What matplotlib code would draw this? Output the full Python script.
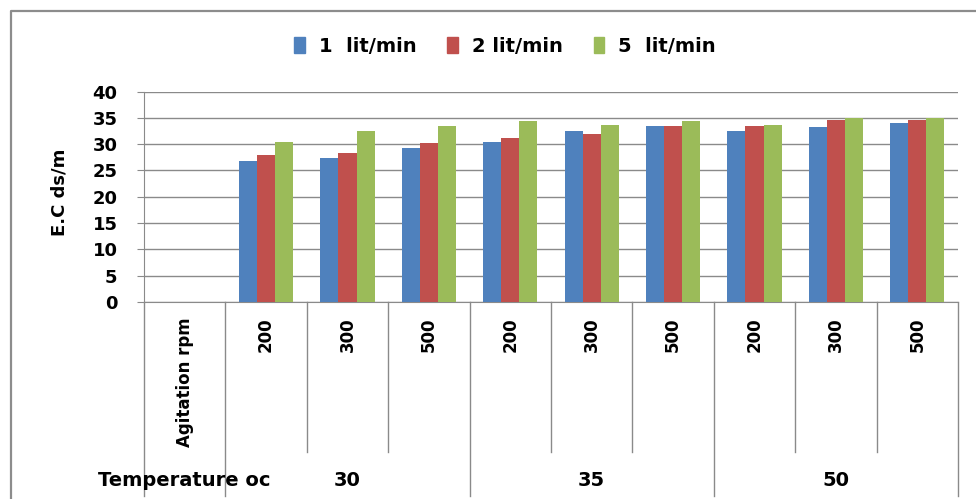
import matplotlib
matplotlib.use("Agg")
import matplotlib.pyplot as plt
import numpy as np
from matplotlib.lines import Line2D
from matplotlib.patches import Patch

# electrical conductivity by agitation speed / temperature, one series per air flow
RPM = ["Agitation rpm", "200", "300", "500", "200", "300", "500", "200", "300", "500"]
TEMPS = ["Temperature oc", "30", "35", "50"]
SERIES = ["1  lit/min", "2 lit/min", "5  lit/min"]
EC_1 = [np.nan, 26.7, 27.3, 29.2, 30.4, 32.4, 33.4, 32.4, 33.2, 34.1]
EC_2 = [np.nan, 27.9, 28.4, 30.2, 31.1, 32.0, 33.4, 33.4, 34.5, 34.6]
EC_5 = [np.nan, 30.4, 32.5, 33.4, 34.3, 33.6, 34.3, 33.6, 35.0, 35.0]
COLORS = ["#4F81BD", "#C0504D", "#9BBB59"]
GRID = "#8a8a8a"

W, H = 976, 499
fig = plt.figure(figsize=(W / 100, H / 100), dpi=100)
ax_l, ax_r, ax_t, ax_b = 144, 958, 91.5, 302  # plot area in pixels
ax = fig.add_axes([ax_l / W, 1 - ax_b / H, (ax_r - ax_l) / W, (ax_b - ax_t) / H])
ax_h = ax_b - ax_t


def below(px):
    """pixels below the x axis -> axes fraction"""
    return -px / ax_h


x = np.arange(len(RPM))
bw = 0.222
for i, (vals, c, lab) in enumerate(zip([EC_1, EC_2, EC_5], COLORS, SERIES)):
    ax.bar(x + (i - 1) * bw, vals, bw, color=c, label=lab, zorder=3)

ax.set_xlim(-0.5, len(RPM) - 0.5)
ax.set_ylim(0, 40)
ax.set_yticks(np.arange(0, 41, 5))
ax.yaxis.grid(True, color=GRID, lw=1.0)
ax.set_axisbelow(True)
for s in ["top", "right"]:
    ax.spines[s].set_visible(False)
ax.spines["left"].set_color(GRID)
ax.spines["bottom"].set_color(GRID)
ax.tick_params(axis="y", length=5, width=0.8, color=GRID, pad=14, labelsize=13)
ax.tick_params(axis="x", length=0, labelbottom=False)
for t in ax.get_yticklabels():
    t.set_fontweight("bold")

# two-level category axis drawn by hand
tr = ax.get_xaxis_transform()
for k in range(len(RPM) + 1):
    long_line = k in (0, 1, 4, 7, 10)
    bottom = below(194 if long_line else 150)
    ax.add_line(Line2D([k - 0.5, k - 0.5], [0, bottom], transform=tr, color=GRID,
                       lw=1.0, clip_on=False))
for xi, lab in zip(x, RPM):
    ax.text(xi, below(15), lab, transform=tr, rotation=90, ha="center", va="top",
            fontsize=12, fontweight="bold")
for xc, lab in zip([0, 2, 5, 8], TEMPS):
    ax.text(xc, below(179), lab, transform=tr, ha="center", va="center",
            fontsize=14, fontweight="bold")

fig.text(59 / W, 1 - 192 / H, "E.C ds/m", rotation=90, ha="center", va="center",
         fontsize=13, fontweight="bold")

handles = [Patch(color=c) for c in COLORS]
fig.legend(handles, SERIES, loc="center", bbox_to_anchor=(505 / W, 1 - 46 / H), ncol=3,
           frameon=False, prop={"size": 14, "weight": "bold"}, handlelength=0.55,
           handleheight=0.9, handletextpad=0.7, columnspacing=1.6)

# outer chart frame (left and top edges)
fig.add_artist(Line2D([11 / W, 11 / W, 1], [0, 1 - 11 / H, 1 - 11 / H],
                      transform=fig.transFigure, color="#8c8c8c", lw=1.6))

fig.savefig("out.png", dpi=100)
